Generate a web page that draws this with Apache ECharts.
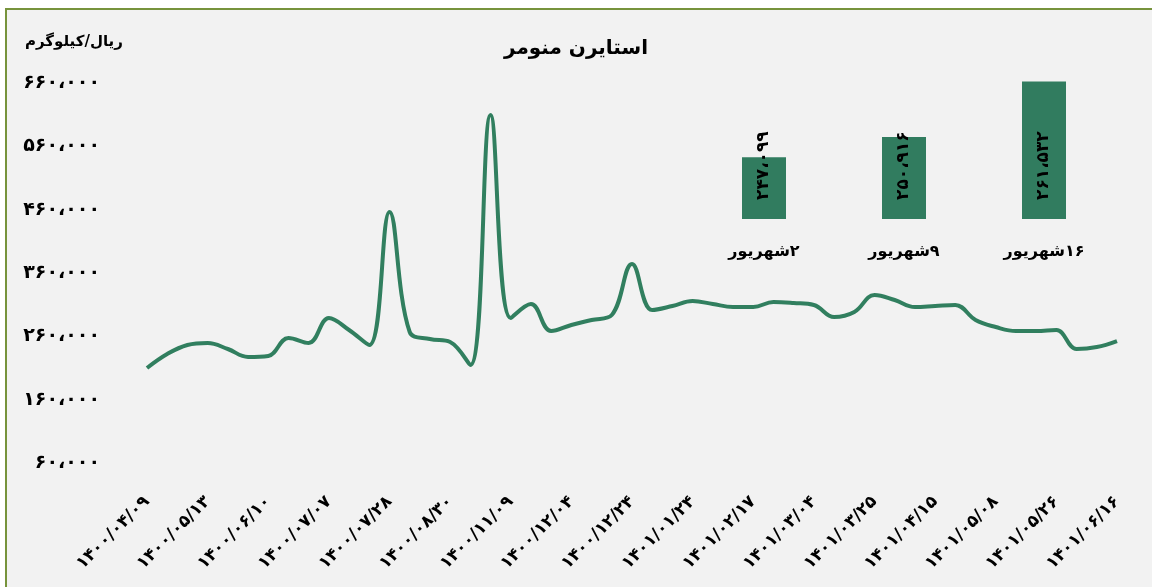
<!DOCTYPE html>
<html dir="ltr">
	<head>
		<meta charset="utf-8">
		<title></title>
		<script src="https://cdn.jsdelivr.net/npm/echarts@6/dist/echarts.min.js"></script>
		<style>
			html, body { margin: 0; padding: 0; background: #fff; overflow: hidden; }
			#frame { position: absolute; left: 5px; top: 8px; width: 1200px; height: 640px;
				border-left: 2px solid #77933c; border-top: 2px solid #77933c; background: #f2f2f2; }
			#main { position: absolute; left: 0; top: 0; width: 1152px; height: 587px; }
		</style>
	</head>
	<body>
		<div id="frame"></div>
		<div id="main"></div>
		<script>
			// تاریخ های محور افقی (هر سه نقطه یک برچسب)
			var tickLabels = ['1400/04/09', '1400/05/13', '1400/06/10', '1400/07/07', '1400/07/28', '1400/08/30',
				'1400/11/09', '1400/12/04', '1400/12/24', '1401/01/24', '1401/02/17', '1401/03/04',
				'1401/03/25', '1401/04/15', '1401/05/08', '1401/05/26', '1401/06/16'];
			// قیمت استایرن منومر - ریال/کیلوگرم
			var prices = [210000, 232100, 246300, 249500, 240000, 227400, 229000, 257400, 249500, 289000,
				270000, 246300, 456300, 266800, 255800, 251000, 214700, 609500, 289000, 311000,
				268400, 277900, 285800, 293700, 374200, 301600, 307900, 315800, 311000, 306300,
				306300, 314200, 312600, 309500, 290500, 298400, 325300, 317400, 306300, 307900,
				309500, 285800, 274700, 268400, 268400, 270000, 240000, 243100, 252600];
			// نمودار کوچک شهریور
			var weekNames = ['۲شهریور', '۹شهریور', '۱۶شهریور'];
			var weekPrices = [247099, 250916, 261532];

			var faDigits = '۰۱۲۳۴۵۶۷۸۹';
			function toFa(s) {
				return String(s).replace(/[0-9]/g, function(d) { return faDigits[+d]; });
			}
			function fmt(v) {
				return toFa(String(v).replace(/\B(?=(\d{3})+(?!\d))/g, '،'));
			}

			var categories = [];
			tickLabels.forEach(function(t, i) {
				categories.push(toFa(t));
				if (i < tickLabels.length - 1) {
					categories.push('', '');
				}
			});

			var font = 'DejaVu Sans';
			var myChart = echarts.init(document.getElementById('main'));
			var option = {
				backgroundColor: 'transparent',
				animation: false,
				textStyle: { fontFamily: font },
				title: [{
					text: 'استایرن منومر',
					left: 'center',
					top: 34,
					textStyle: { fontFamily: font, fontSize: 20, fontWeight: 'bold', color: '#000' }
				}, {
					text: 'ریال/کیلوگرم',
					left: 20,
					top: 30,
					textStyle: { fontFamily: font, fontSize: 15, fontWeight: 'bold', color: '#000' }
				}],
				grid: [
					{ left: 147, right: 35, top: 83, bottom: 124 },
					{ left: 694, right: 38, top: 79, bottom: 368 }
				],
				xAxis: [{
					type: 'category',
					gridIndex: 0,
					data: categories,
					boundaryGap: false,
					axisLine: { show: false },
					axisTick: { show: false },
					axisLabel: {
						interval: 2,
						rotate: 45,
						margin: 36,
						fontSize: 17,
						fontWeight: 'bold',
						color: '#000',
						fontFamily: font
					}
				}, {
					type: 'category',
					gridIndex: 1,
					data: weekNames,
					axisLine: { show: false },
					axisTick: { show: false },
					axisLabel: {
						margin: 25,
						fontSize: 16,
						fontWeight: 'bold',
						color: '#000',
						fontFamily: font,
						formatter: function(v) { return '\u200F' + v; }
					}
				}],
				yAxis: [{
					type: 'value',
					gridIndex: 0,
					min: 60000,
					max: 660000,
					interval: 100000,
					splitLine: { show: false },
					axisLine: { show: false },
					axisTick: { show: false },
					axisLabel: {
						margin: 47,
						fontSize: 19,
						fontWeight: 'bold',
						color: '#000',
						fontFamily: font,
						formatter: fmt
					}
				}, {
					type: 'value',
					gridIndex: 1,
					min: 235300,
					max: 262000,
					show: false
				}],
				series: [{
					name: 'استایرن منومر',
					type: 'line',
					xAxisIndex: 0,
					yAxisIndex: 0,
					data: prices,
					smooth: 0.4,
					symbol: 'none',
					lineStyle: { color: '#317f5f', width: 4 }
				}, {
					name: 'شهریور',
					type: 'bar',
					xAxisIndex: 1,
					yAxisIndex: 1,
					data: weekPrices,
					barWidth: 44,
					itemStyle: { color: '#317c5f' },
					label: {
						show: true,
						position: 'insideBottom',
						distance: 19,
						rotate: 90,
						align: 'left',
						verticalAlign: 'middle',
						fontSize: 17,
						fontWeight: 'bold',
						color: '#000',
						fontFamily: font,
						formatter: function(p) { return fmt(p.value); }
					}
				}]
			};
			myChart.setOption(option);
		</script>
	</body>
</html>
